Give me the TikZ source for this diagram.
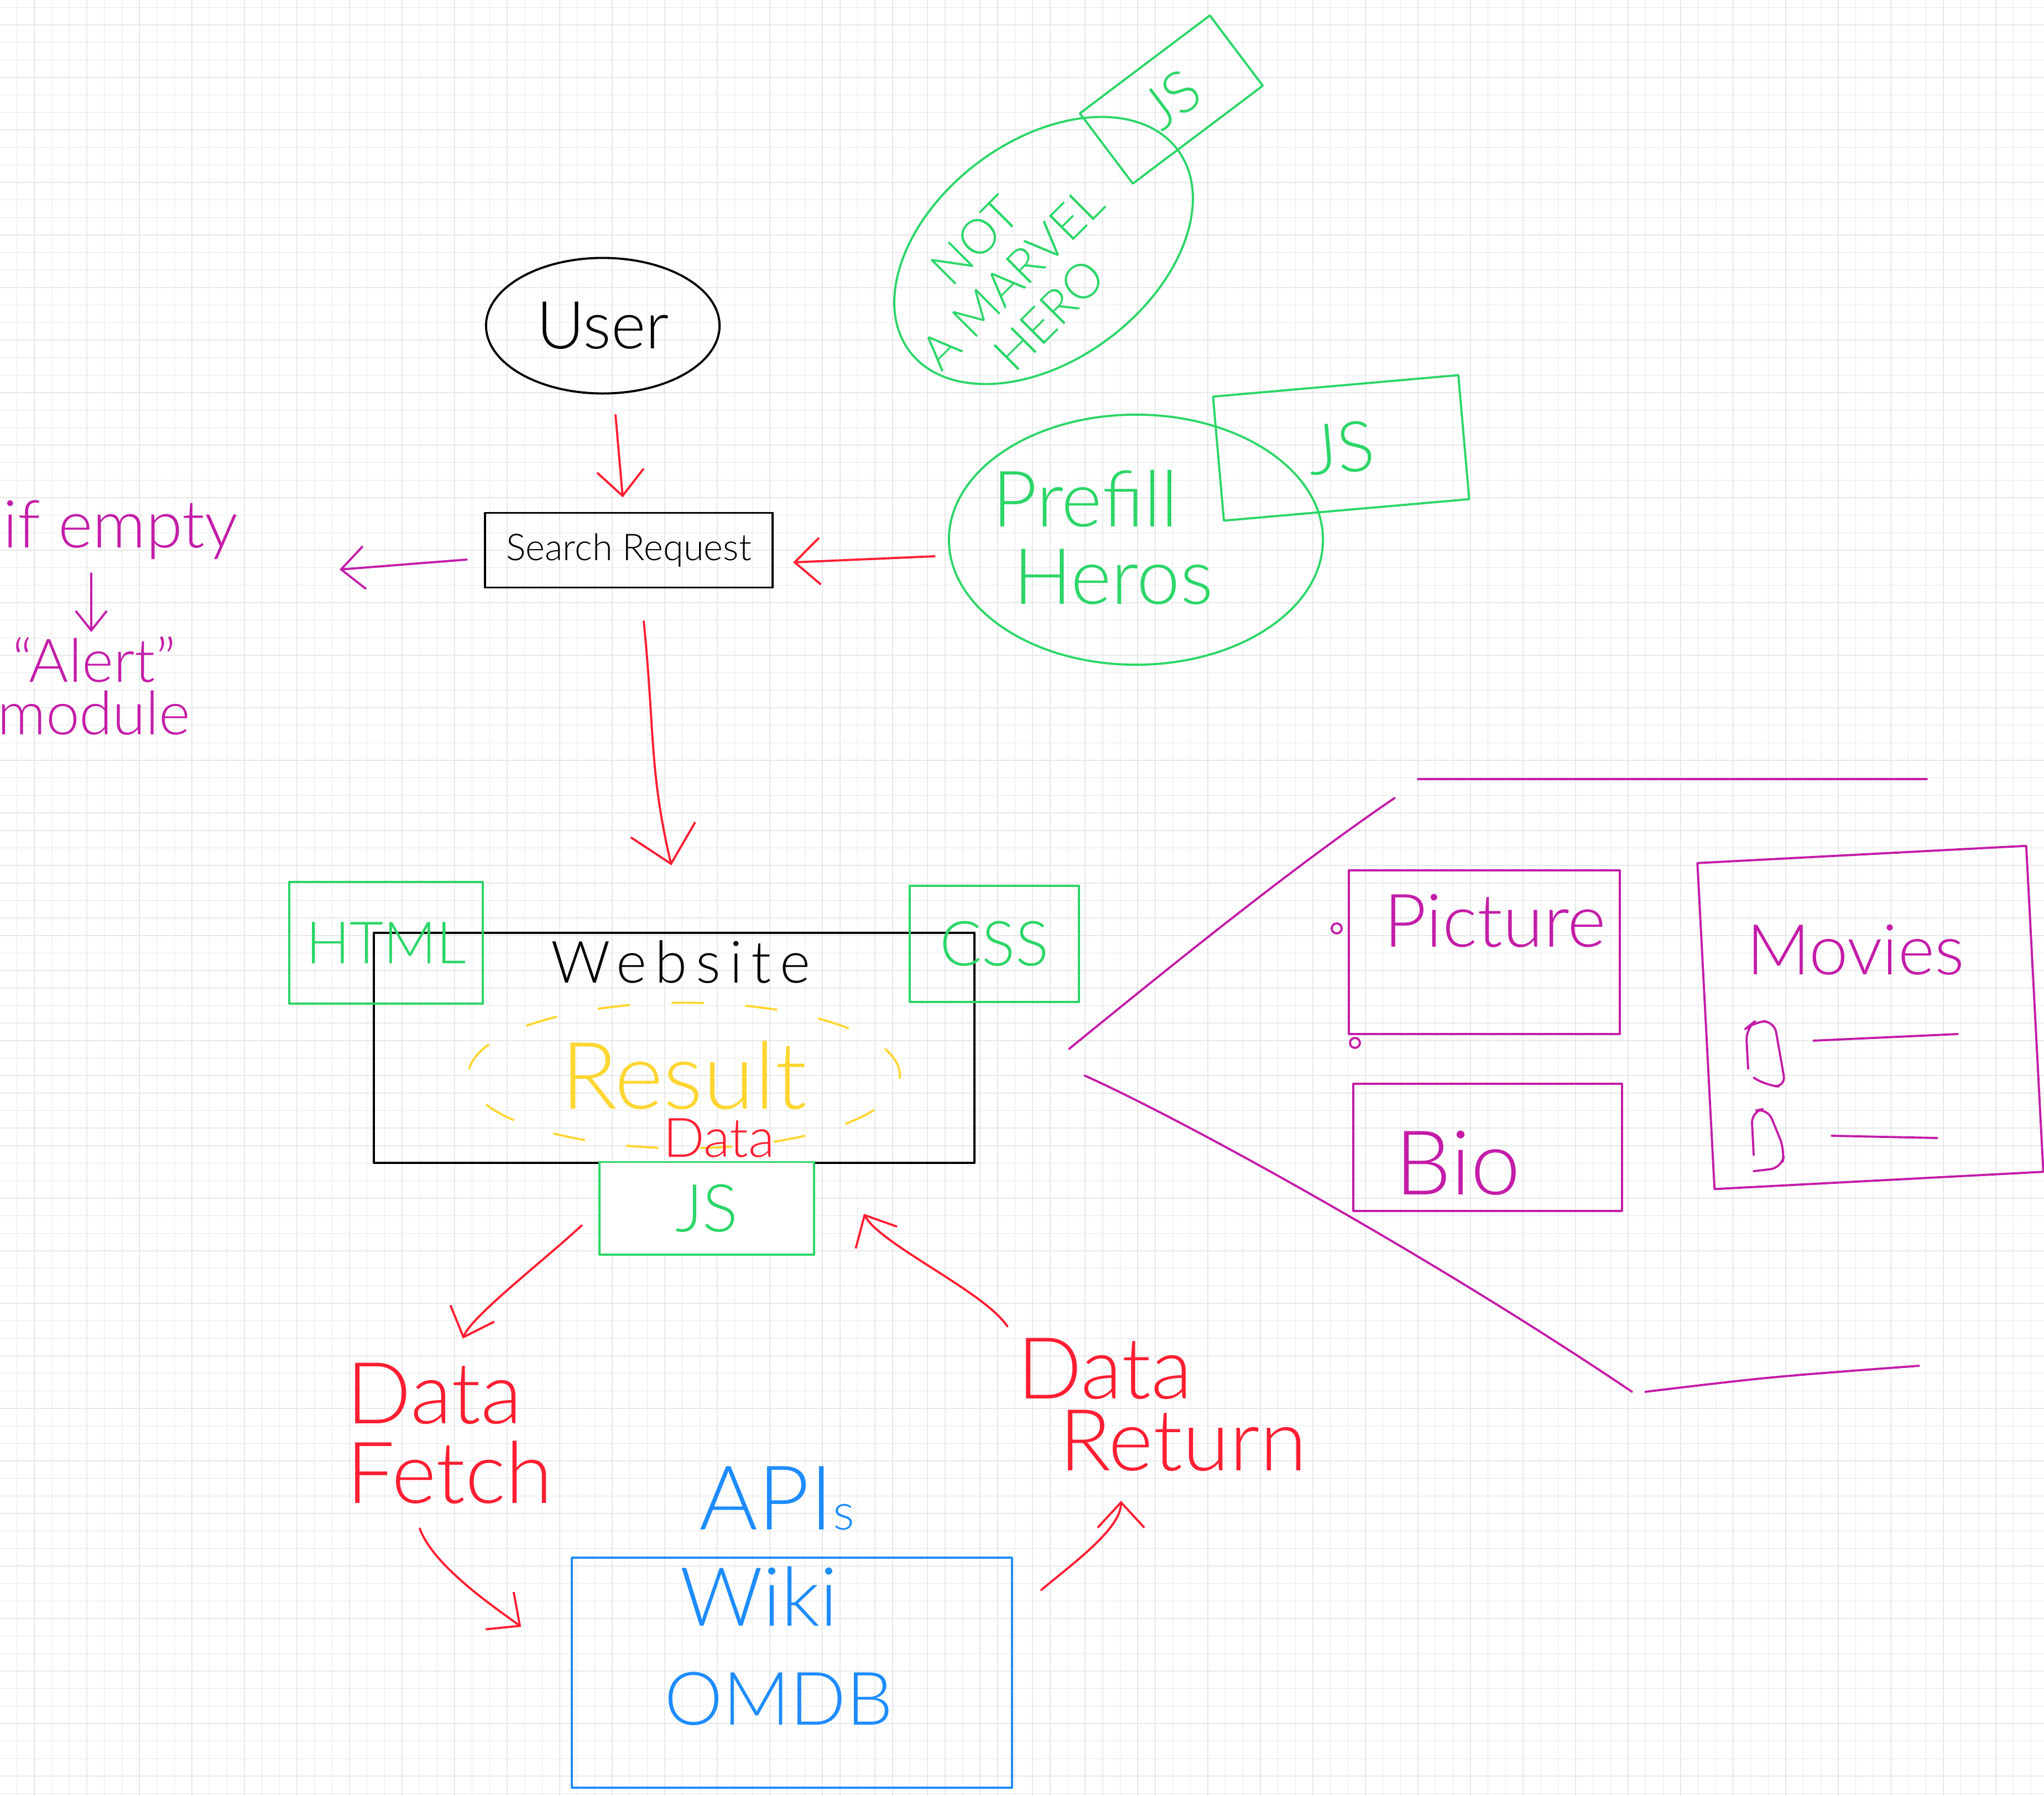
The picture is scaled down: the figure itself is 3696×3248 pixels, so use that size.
\documentclass[tikz,border=0pt]{standalone}
\usepackage{fontspec}
\setmainfont{Lato Light}
\usetikzlibrary{shapes.geometric}
\usetikzlibrary{arrows.meta}

\definecolor{greenc}{RGB}{44,214,104}
\definecolor{redc}{RGB}{255,30,50}
\definecolor{magc}{RGB}{196,28,168}
\definecolor{bluec}{RGB}{30,140,255}
\definecolor{yellowc}{RGB}{255,214,50}
\definecolor{gridc}{RGB}{232,232,232}

\newcommand\handsize[2]{\fontsize{#1}{#2}\selectfont}

\tikzset{
  sketch/.style={line width=1.1pt, line cap=round, line join=round},
  gridline/.style={draw=gridc, line width=0.4pt},
  txt/.style={inner sep=0pt},
  blackbox/.style={sketch, draw=black, rectangle, inner sep=0pt},
  blackell/.style={sketch, draw=black, ellipse, inner sep=0pt},
  greenbox/.style={sketch, draw=greenc, text=greenc, rectangle, inner sep=0pt},
  greenell/.style={sketch, draw=greenc, text=greenc, ellipse, inner sep=0pt},
  yellowell/.style={sketch, draw=yellowc, text=yellowc, ellipse, inner sep=0pt, dash pattern=on 16pt off 22pt},
  bluebox/.style={sketch, draw=bluec, rectangle, inner sep=0pt},
  magbox/.style={sketch, draw=magc, rectangle, inner sep=0pt},
  magline/.style={sketch, draw=magc},
  redarrow/.style={sketch, draw=redc, -{Straight Barb[length=13pt,width=24pt]}},
  magarrow/.style={sketch, draw=magc, -{Straight Barb[length=12pt,width=22pt]}},
  bighead/.style={-{Straight Barb[length=18pt,width=34pt]}},
  smallhead/.style={-{Straight Barb[length=10pt,width=16pt]}}
}

\begin{document}
\begin{tikzpicture}[x=0.01cm, y=-0.01cm]
  \useasboundingbox (0,0) rectangle (3696,3248);
  \fill[white] (0,0) rectangle (3696,3248);

  % grid paper
  \foreach \gx in {0,...,116}
    \draw[gridline] ({30.3+31.67*\gx},0) -- ({30.3+31.67*\gx},3248);
  \foreach \gy in {0,...,102}
    \draw[gridline] (0,{13.3+31.67*\gy}) -- (3696,{13.3+31.67*\gy});

  % User and search request
  \node[blackell, minimum width=4.22cm, minimum height=2.45cm, font=\handsize{34}{40}] (user) at (1090,589) {User};
  \node[blackbox, minimum width=5.2cm, minimum height=1.35cm, font=\handsize{19}{22}] (search) at (1137,995) {Search Request};

  % left note
  \node[txt, text=magc, anchor=base west, font=\handsize{34}{36}] (ifempty) at (5,990) {if empty};
  \node[txt, text=magc, anchor=north, align=center, font=\handsize{31}{27}] (alert) at (170,1150) {“Alert”\\module};

  % not a marvel hero
  \node[greenell, minimum width=6.06cm, minimum height=3.96cm, rotate=37] (marvel) at (1887,453) {};
  \node[txt, text=greenc, rotate=45, align=center, font=\handsize{25}{27}] (marveltxt) at (1830,502) {NOT\\A MARVEL\\HERO};
  \node[greenbox, minimum width=2.94cm, minimum height=1.59cm, rotate=37, font=\handsize{30}{34}] (jsmarvel) at (2118,180) {JS};

  % prefill heros
  \node[greenell, minimum width=6.76cm, minimum height=4.52cm] (prefill) at (2054,976) {};
  \node[txt, text=greenc, align=left, font=\handsize{40}{40}] (prefilltxt) at (1994,972) {Prefill\\\hspace*{0.38cm}Heros};
  \node[greenbox, minimum width=4.45cm, minimum height=2.25cm, rotate=5, font=\handsize{36}{40}] (jsprefill) at (2425,810) {JS};

  % website
  \node[blackbox, minimum width=10.86cm, minimum height=4.16cm] (website) at (1219,1895) {};
  \node[txt, font=\handsize{30}{34}\addfontfeatures{LetterSpace=15}] (webtitle) at (1231,1740) {Website};
  \node[yellowell, minimum width=7.8cm, minimum height=2.63cm, font=\handsize{48}{52}] (result) at (1237,1945) {Result};
  \node[txt, text=redc, font=\handsize{28}{30}] (datalbl) at (1300,2058) {Data};
  \node[greenbox, minimum width=3.5cm, minimum height=2.2cm, font=\handsize{30}{34}] (html) at (698,1705) {HTML};
  \node[greenbox, minimum width=3.05cm, minimum height=2.1cm, font=\handsize{32}{36}] (css) at (1798,1707) {CSS};
  \node[greenbox, fill=white, minimum width=3.88cm, minimum height=1.67cm, font=\handsize{34}{38}] (jsweb) at (1278,2185) {JS};

  % APIs
  \node[bluebox, minimum width=7.95cm, minimum height=4.15cm] (apis) at (1432,3025) {};
  \node[txt, text=bluec, font=\handsize{46}{50}] (apilbl) at (1405,2710) {API{\handsize{26}{28}s}};
  \node[txt, text=bluec, font=\handsize{42}{46}] (wikitxt) at (1372,2887) {Wiki};
  \node[txt, text=bluec, font=\handsize{38}{42}] (omdbtxt) at (1408,3072) {OMDB};

  % red labels
  \node[txt, text=redc, align=left, font=\handsize{44}{41}] (datafetch) at (813,2592) {Data\\Fetch};
  \node[txt, text=redc, align=left, font=\handsize{44}{37}] (datareturn) at (2101,2540) {Data\\\hspace*{0.76cm}Return};

  % result detail
  \node[magbox, minimum width=4.9cm, minimum height=2.95cm] (picbox) at (2684,1722) {};
  \node[txt, text=magc, font=\handsize{38}{42}] (pictxt) at (2703,1665) {Picture};
  \node[magbox, minimum width=4.85cm, minimum height=2.3cm] (biobox) at (2690,2075) {};
  \node[txt, text=magc, font=\handsize{46}{50}] (biotxt) at (2636,2103) {Bio};
  \node[magbox, minimum width=5.95cm, minimum height=5.9cm, rotate=3] (movbox) at (3382,1840) {};
  \node[txt, text=magc, font=\handsize{36}{40}] (movtxt) at (3355,1718) {Movies};
  \draw[magline] (2417,1679) circle (9);
  \draw[magline] (2450,1886) circle (9);
  \draw[magline, rounded corners=6pt] (3161,1933) -- (3157,1860) -- (3172,1848) -- (3208,1846) -- (3229,1966) -- (3195,1963) -- (3171,1949);
  \draw[magline] (3279,1882) -- (3540,1870);
  \draw[magline, rounded corners=6pt] (3171,2089) -- (3167,2010) -- (3196,2004) -- (3227,2080) -- (3222,2112) -- (3171,2118);
  \draw[magline] (3312,2054) -- (3503,2058);

  % callout lines
  \draw[magline] (1933,1897) .. controls (2150,1720) and (2350,1560) .. (2522,1443);
  \draw[magline] (2564,1409) -- (3484,1409);
  \draw[magline] (1961,1945) .. controls (2150,2030) and (2600,2280) .. (2951,2517);
  \draw[magline] (2975,2517) .. controls (3200,2490) .. (3470,2470);

  % arrows
  \draw[redarrow] ([shift={(23,37)}]user.south) -- ([shift={(-11,-26)}]search.north);
  \draw[redarrow] ([shift={(-24,30)}]prefill.west) -- ([shift={(35,22)}]search.east);
  \draw[magarrow] ([shift={(-31,17)}]search.west) -- ([shift={(183,40)}]ifempty.base east);
  \draw[magarrow, smallhead] ([shift={(160,47)}]ifempty.base west) -- ([shift={(-5,-7)}]alert.north);
  \draw[redarrow, bighead] ([shift={(27,59)}]search.south) .. controls +(20,200) and +(-40,-170) .. ([shift={(-5,-120)}]website.north);
  \draw[redarrow] ([shift={(-30,31)}]jsweb.west) .. controls +(-70,65) and +(15,-40) .. ([shift={(24,-43)}]datafetch.north);
  \draw[redarrow] ([shift={(-17,-20)}]datareturn.north west) .. controls +(-40,-62) and +(29,55) .. ([shift={(88,10)}]jsweb.east);
  \draw[redarrow] ([shift={(-54,44)}]datafetch.south) .. controls +(25,70) and +(-40,-30) .. ([shift={(-90,-83)}]apis.west);
  \draw[redarrow] ([shift={(51,60)}]apis.north east) .. controls +(60,-50) and +(0,50) .. ([shift={(-74,53)}]datareturn.south);
\end{tikzpicture}
\end{document}
